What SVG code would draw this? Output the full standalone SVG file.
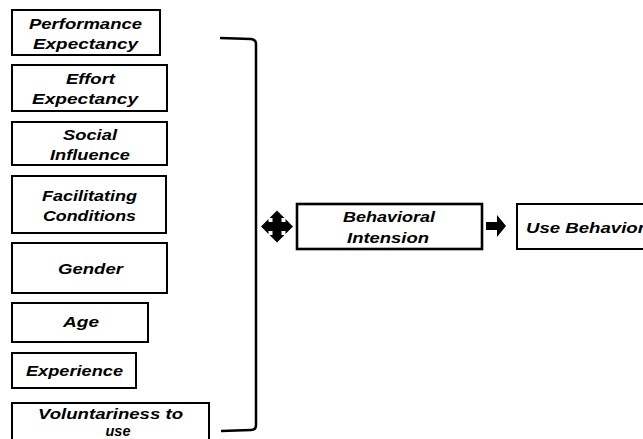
<svg xmlns="http://www.w3.org/2000/svg" width="643" height="439" viewBox="0 0 643 439">
<style>
.box{fill:#fff;stroke:#000;stroke-width:2}
.box2{fill:#fff;stroke:#000;stroke-width:2.6}
.t{font-family:"Liberation Sans",Arial,sans-serif;font-weight:bold;font-style:italic;font-size:14.5px;fill:#000}
.line{fill:none;stroke:#000;stroke-width:2.5;stroke-linejoin:round}
.solid{fill:#000}
</style>
<rect width="643" height="439" fill="#fff"/>
<g id="performance-expectancy">
<rect class="box" x="12" y="10" width="148" height="45"/>
<text class="t" x="29" y="29" textLength="113" lengthAdjust="spacingAndGlyphs">Performance</text>
<text class="t" x="33" y="49" textLength="105" lengthAdjust="spacingAndGlyphs">Expectancy</text>
</g>
<g id="effort-expectancy">
<rect class="box" x="12" y="65" width="155" height="46"/>
<text class="t" x="66" y="84" textLength="49" lengthAdjust="spacingAndGlyphs">Effort</text>
<text class="t" x="32" y="104" textLength="106" lengthAdjust="spacingAndGlyphs">Expectancy</text>
</g>
<g id="social-influence">
<rect class="box" x="12" y="122" width="155" height="43"/>
<text class="t" x="63" y="140" textLength="54" lengthAdjust="spacingAndGlyphs">Social</text>
<text class="t" x="50" y="160" textLength="80" lengthAdjust="spacingAndGlyphs">Influence</text>
</g>
<g id="facilitating-conditions">
<rect class="box" x="12" y="176" width="154" height="57"/>
<text class="t" x="42" y="201" textLength="95" lengthAdjust="spacingAndGlyphs">Facilitating</text>
<text class="t" x="43" y="221" textLength="93" lengthAdjust="spacingAndGlyphs">Conditions</text>
</g>
<g id="gender">
<rect class="box" x="12" y="243" width="155" height="50"/>
<text class="t" x="58" y="274" textLength="65" lengthAdjust="spacingAndGlyphs">Gender</text>
</g>
<g id="age">
<rect class="box" x="12" y="303" width="136" height="39"/>
<text class="t" x="63" y="327" textLength="36" lengthAdjust="spacingAndGlyphs">Age</text>
</g>
<g id="experience">
<rect class="box" x="12" y="353" width="124" height="35"/>
<text class="t" x="26" y="376" textLength="97" lengthAdjust="spacingAndGlyphs">Experience</text>
</g>
<g id="voluntariness">
<rect class="box" x="12" y="403" width="197" height="50"/>
<text class="t" x="38" y="419" textLength="145" lengthAdjust="spacingAndGlyphs">Voluntariness to</text>
<text class="t" x="118" y="436" text-anchor="middle">use</text>
</g>
<g id="behavioral-intension">
<rect class="box2" x="297" y="204" width="185" height="45"/>
<text class="t" x="343" y="222" textLength="92" lengthAdjust="spacingAndGlyphs">Behavioral</text>
<text class="t" x="347" y="243" textLength="82" lengthAdjust="spacingAndGlyphs">Intension</text>
</g>
<g id="use-behavior">
<rect class="box" x="517" y="204" width="150" height="45"/>
<text class="t" x="526" y="233" textLength="119" lengthAdjust="spacingAndGlyphs">Use Behavior</text>
</g>
<g id="connectors">
<path class="line" d="M220,38 L251,39 Q256,39.5 256,44 L256,425 Q256,430 251,430 L221,431"/>
<polygon class="solid" points="277,210.5 284.5,218 281.5,218 281.5,222 285.5,222 285.5,219 293,226.5 285.5,234 285.5,231 281.5,231 281.5,235 284.5,235 277,242.5 269.5,235 272.5,235 272.5,231 268.5,231 268.5,234 261,226.5 268.5,219 268.5,222 272.5,222 272.5,218 269.5,218"/>
<polygon class="solid" points="486,222 497,222 497,215 506,226 497,237 497,230 486,230"/>
</g>
</svg>
